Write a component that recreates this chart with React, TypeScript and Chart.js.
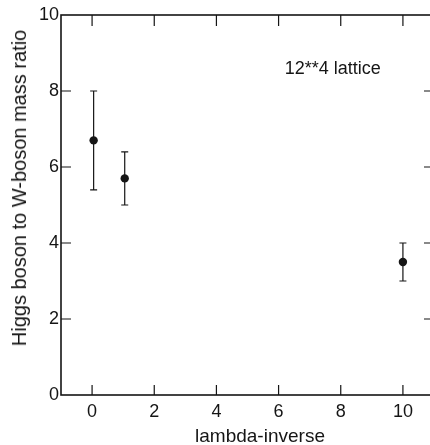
import React, { useEffect, useRef } from "react";
import { Chart, registerables } from "chart.js";

Chart.register(...registerables);

const xValues = [0.05, 1.05, 10.0];
const yValues = [6.7, 5.7, 3.5];
const yUpper = [8.0, 6.4, 4.0];
const yLower = [5.4, 5.0, 3.0];
const xTicks = [0, 2, 4, 6, 8, 10];
const yTicks = [0, 2, 4, 6, 8, 10];
const xTitle = "lambda-inverse";
const yTitle = "Higgs boson to W-boson mass ratio";
const annotationText = "12**4 lattice";
const annotationAt = { x: 6.2, y: 8.45 };

const FONT = "'Liberation Sans', Arial, sans-serif";
const INK = "#151515";

const errorBarPlugin = {
  id: "errorBars",
  beforeDatasetsDraw(chart: any) {
    const { ctx, scales } = chart;
    const x = scales.x;
    const y = scales.y;
    ctx.save();
    ctx.strokeStyle = INK;
    ctx.lineWidth = 1.2;
    xValues.forEach((xv, i) => {
      const px = x.getPixelForValue(xv);
      const pt = y.getPixelForValue(yUpper[i]);
      const pb = y.getPixelForValue(yLower[i]);
      ctx.beginPath();
      ctx.moveTo(px, pt);
      ctx.lineTo(px, pb);
      ctx.moveTo(px - 3.5, pt);
      ctx.lineTo(px + 3.5, pt);
      ctx.moveTo(px - 3.5, pb);
      ctx.lineTo(px + 3.5, pb);
      ctx.stroke();
    });
    ctx.restore();
  },
};

const framePlugin = {
  id: "frame",
  afterDraw(chart: any) {
    const { ctx, chartArea: a, scales } = chart;
    const x = scales.x;
    const y = scales.y;
    ctx.save();
    ctx.strokeStyle = INK;
    ctx.lineWidth = 1.6;
    ctx.strokeRect(a.left, a.top, a.right - a.left, a.bottom - a.top);
    ctx.lineWidth = 1.2;
    ctx.beginPath();
    xTicks.forEach((v) => {
      const px = x.getPixelForValue(v);
      ctx.moveTo(px, a.bottom);
      ctx.lineTo(px, a.bottom - 10);
      ctx.moveTo(px, a.top);
      ctx.lineTo(px, a.top + 11);
    });
    yTicks.forEach((v) => {
      if (v === 0 || v === 10) return;
      const py = y.getPixelForValue(v);
      ctx.moveTo(a.left, py);
      ctx.lineTo(a.left + 10, py);
      ctx.moveTo(a.right, py);
      ctx.lineTo(a.right - 10, py);
    });
    ctx.stroke();

    ctx.fillStyle = INK;
    ctx.font = `18px ${FONT}`;
    ctx.textAlign = "left";
    ctx.textBaseline = "alphabetic";
    ctx.fillText(annotationText, x.getPixelForValue(annotationAt.x), y.getPixelForValue(annotationAt.y));

    ctx.font = `19px ${FONT}`;
    ctx.textAlign = "center";
    ctx.fillText(xTitle, 260, 442);
    ctx.restore();
  },
};

export default function App() {
  const ref = useRef<HTMLCanvasElement | null>(null);
  useEffect(() => {
    if (!ref.current) return;
    const chart = new Chart(ref.current, {
      type: "scatter",
      data: {
        datasets: [
          {
            data: xValues.map((xv, i) => ({ x: xv, y: yValues[i] })),
            pointRadius: 4.2,
            pointBackgroundColor: INK,
            pointBorderColor: INK,
            pointBorderWidth: 0,
          },
        ],
      },
      options: {
        responsive: false,
        animation: false,
        events: [],
        layout: { padding: { top: 15, right: 6, left: 0, bottom: 0 } },
        plugins: { legend: { display: false }, tooltip: { enabled: false } },
        scales: {
          x: {
            type: "linear",
            min: -1,
            max: 11,
            afterBuildTicks: (s: any) => {
              s.ticks = xTicks.map((v) => ({ value: v }));
            },
            afterFit: (s: any) => {
              s.height = 50;
            },
            grid: { display: false, drawTicks: false },
            border: { display: false },
            ticks: {
              padding: 6,
              color: INK,
              font: { family: FONT, size: 18 },
              maxRotation: 0,
              autoSkip: false,
            },
          },
          y: {
            type: "linear",
            min: 0,
            max: 10,
            afterBuildTicks: (s: any) => {
              s.ticks = yTicks.map((v) => ({ value: v }));
            },
            afterFit: (s: any) => {
              s.width = 61;
            },
            grid: { display: false, drawTicks: false },
            border: { display: false },
            ticks: {
              padding: 2,
              color: INK,
              font: { family: FONT, size: 18 },
              autoSkip: false,
            },
          },
        },
      },
      plugins: [errorBarPlugin, framePlugin],
    });
    return () => chart.destroy();
  }, []);
  return (
    <div
      style={{
        position: "absolute",
        left: 0,
        top: 0,
        width: 430,
        height: 445,
        overflow: "hidden",
        background: "#fff",
      }}
    >
      <canvas ref={ref} width={440} height={445} style={{ display: "block" }} />
      <div
        style={{
          position: "absolute",
          left: 19,
          top: 188,
          transform: "translate(-50%, -50%) rotate(-90deg)",
          whiteSpace: "nowrap",
          fontFamily: FONT,
          fontSize: 20,
          lineHeight: "22px",
          color: INK,
        }}
      >
        {yTitle}
      </div>
    </div>
  );
}
